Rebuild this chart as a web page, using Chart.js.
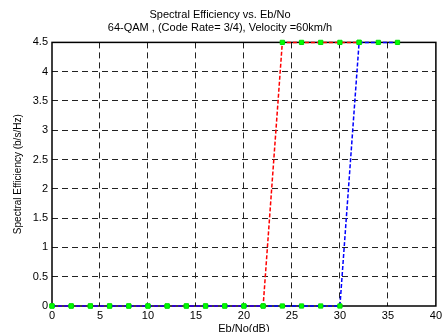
<!DOCTYPE html>
<html>
<head>
<meta charset="utf-8">
<script src="https://cdn.jsdelivr.net/npm/chart.js@4"></script>
<style>
  html, body { margin: 0; padding: 0; background: #fff; }
  #wrap { width: 445px; height: 332px; }
</style>
</head>
<body>
<div id="wrap"><canvas id="chart"></canvas></div>
<script>
// Eb/No (dB) sample points and spectral efficiency (b/s/Hz)
const ebNoRed = [0, 2, 4, 6, 8, 10, 12, 14, 16, 18, 20, 22, 24, 26, 28, 30, 32];
const seRed = [0, 0, 0, 0, 0, 0, 0, 0, 0, 0, 0, 0, 4.5, 4.5, 4.5, 4.5, 4.5];
const ebNoBlue = [0, 2, 4, 6, 8, 10, 12, 14, 16, 18, 20, 22, 24, 26, 28, 30, 32, 34, 36];
const seBlue = [0, 0, 0, 0, 0, 0, 0, 0, 0, 0, 0, 0, 0, 0, 0, 0, 4.5, 4.5, 4.5];

const titleLines = ['Spectral Efficiency vs. Eb/No', '64-QAM , (Code Rate= 3/4), Velocity =60km/h'];

const toPoints = (xs, ys) => xs.map((x, i) => ({ x: x, y: ys[i] }));
const FONT = '"Liberation Sans", Arial, sans-serif';

// solid box around the plot, like matlab axes
const frame = {
  id: 'frame',
  beforeDatasetsDraw(chart) {
    const { ctx, chartArea: a } = chart;
    ctx.save();
    ctx.strokeStyle = '#000';
    ctx.lineWidth = 1.5;
    ctx.strokeRect(a.left, a.top, a.right - a.left, a.bottom - a.top);
    ctx.restore();
  }
};

const edgeless = (ctx) => {
  const t = ctx.tick;
  const s = ctx.scale;
  if (!t) return 'transparent';
  return (t.value === s.min || t.value === s.max) ? 'transparent' : '#222';
};

const series = (pts, color) => ({
  data: pts,
  borderColor: color,
  borderWidth: 1.5,
  borderDash: [4, 2],
  pointStyle: 'rect',
  pointRadius: 3,
  pointBorderWidth: 1,
  pointBackgroundColor: '#00ff00',
  pointBorderColor: '#00e000',
  tension: 0,
  clip: false
});

new Chart(document.getElementById('chart'), {
  type: 'line',
  data: {
    // first dataset ends up on top, blue covers red along the bottom
    datasets: [
      series(toPoints(ebNoBlue, seBlue), '#0000ff'),
      series(toPoints(ebNoRed, seRed), '#ff0000')
    ]
  },
  options: {
    responsive: true,
    maintainAspectRatio: false,
    animation: false,
    layout: { padding: { left: 0, right: 5, top: 0, bottom: -4 } },
    plugins: {
      legend: { display: false },
      tooltip: { enabled: false },
      title: {
        display: true,
        text: titleLines,
        color: '#000',
        font: { family: FONT, size: 11, weight: 'normal', lineHeight: 1.2 },
        padding: { top: 8, bottom: 8 }
      }
    },
    scales: {
      x: {
        type: 'linear',
        min: 0,
        max: 40,
        ticks: {
          stepSize: 5,
          color: '#000',
          padding: 3,
          maxRotation: 0,
          font: { family: FONT, size: 11 }
        },
        grid: { color: edgeless, drawTicks: false, lineWidth: 1 },
        border: { display: false, dash: [6, 4] },
        title: {
          display: true,
          text: 'Eb/No(dB)',
          color: '#000',
          padding: 0,
          font: { family: FONT, size: 11 }
        },
        afterFit(axis) { axis.height = 30; }
      },
      y: {
        min: 0,
        max: 4.5,
        ticks: {
          stepSize: 0.5,
          color: '#000',
          padding: 4,
          font: { family: FONT, size: 11 },
          callback: (v) => String(v)
        },
        grid: { color: edgeless, drawTicks: false, lineWidth: 1 },
        border: { display: false, dash: [6, 4] },
        title: {
          display: true,
          text: 'Spectral Efficiency (b/s/Hz)',
          color: '#000',
          padding: { top: 12, bottom: 0 },
          font: { family: FONT, size: 10 }
        },
        afterFit(axis) { axis.width = 52; }
      }
    }
  },
  plugins: [frame]
});
</script>
</body>
</html>
